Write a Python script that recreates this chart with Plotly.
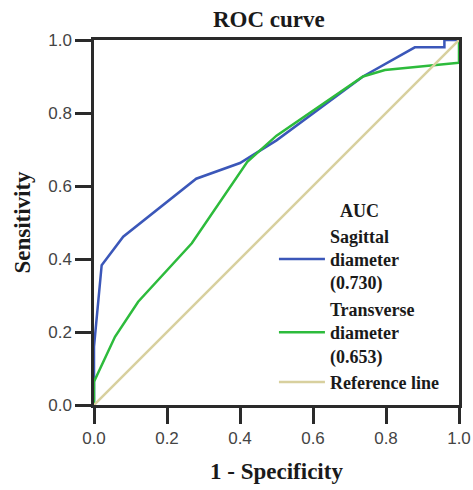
import plotly.graph_objects as go

sag_x = [0.0, 0.0, 0.021, 0.08, 0.28, 0.40, 0.50, 0.737, 0.879, 0.96, 0.96, 1.0]
sag_y = [0.0, 0.16, 0.383, 0.461, 0.62, 0.663, 0.725, 0.90, 0.98, 0.98, 1.0, 1.0]
tra_x = [0.0, 0.0, 0.0575, 0.121, 0.268, 0.42, 0.50, 0.737, 0.797, 1.0, 1.0]
tra_y = [0.0, 0.064, 0.187, 0.283, 0.443, 0.666, 0.738, 0.90, 0.918, 0.938, 1.0]
ref_x = [0.0, 1.0]
ref_y = [0.0, 1.0]
names = ["<b>Sagittal<br>diameter<br>(0.730)</b>", "<b>Transverse<br>diameter<br>(0.653)</b>", "<b>Reference line</b>"]
colors = ["#3b57b9", "#2dbb3c", "#d8d09e"]
ticks = [0.0, 0.2, 0.4, 0.6, 0.8, 1.0]

SERIF = "Liberation Serif"
SANS = "Liberation Sans"
fig = go.Figure()
for xs, ys, n, c in zip([sag_x, tra_x, ref_x], [sag_y, tra_y, ref_y], names, colors):
    fig.add_trace(go.Scatter(x=xs, y=ys, mode="lines", name=n,
                             line=dict(color=c, width=2.5)))

axis_common = dict(range=[0, 1], tickvals=ticks, tickformat=".1f", showgrid=False,
                   zeroline=False, showline=True, mirror=True, linecolor="#2a2a2a",
                   linewidth=2.5, ticks="outside", ticklen=16, tickwidth=2.5,
                   tickcolor="#2a2a2a", automargin=False,
                   tickfont=dict(family=SANS, size=17, color="#444444"))
fig.update_xaxes(**axis_common,
                 title=dict(text="<b>1 - Specificity</b>", font=dict(family=SERIF, size=23, color="#1a1a1a"), standoff=16))
fig.update_yaxes(**axis_common,
                 title=dict(text="<b>Sensitivity</b>", font=dict(family=SERIF, size=23, color="#1a1a1a"), standoff=12))

fig.update_layout(
    width=473, height=490,
    margin=dict(l=94, r=14, t=40, b=85),
    plot_bgcolor="white", paper_bgcolor="white",
    title=dict(text="<b>ROC curve</b>", x=0.479, xref="paper", xanchor="center",
               y=0.961, yref="container", yanchor="middle",
               font=dict(family=SERIF, size=23, color="#1a1a1a")),
    legend=dict(title=dict(text="<b>AUC</b>", side="top center",
                           font=dict(family=SERIF, size=18, color="#1a1a1a")),
                font=dict(family=SERIF, size=18, color="#1a1a1a"),
                x=0.493, xanchor="left", y=0.578, yanchor="top",
                bgcolor="rgba(0,0,0,0)", itemwidth=46, tracegroupgap=4),
)
fig.write_html("out.html", config={"displayModeBar": False},
               post_script="document.body.style.margin='0';")
